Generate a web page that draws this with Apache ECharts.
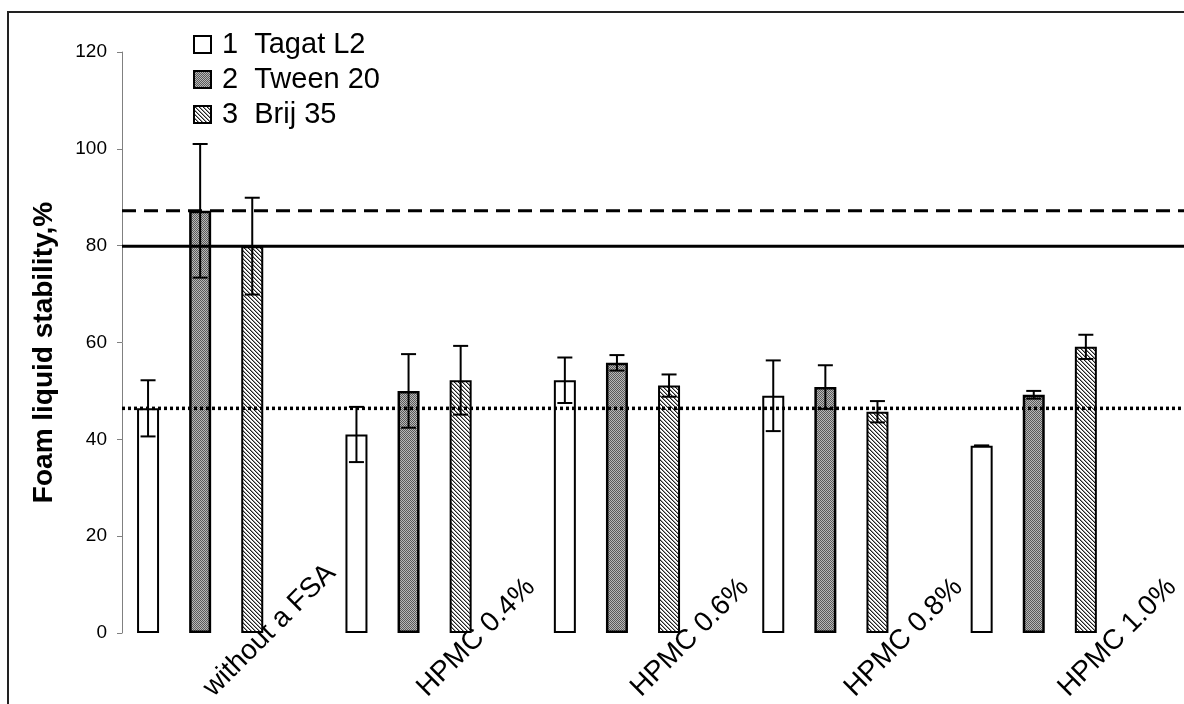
<!DOCTYPE html>
<html><head><meta charset="utf-8">
<script src="https://cdn.jsdelivr.net/npm/echarts@6/dist/echarts.min.js"></script>
<style>html,body{margin:0;padding:0;background:#fff}#c{width:1184px;height:704px}</style>
</head><body><div id="c"></div>
<script>
// ---- data ----
const categories = ['without a FSA', 'HPMC 0.4%', 'HPMC 0.6%', 'HPMC 0.8%', 'HPMC 1.0%'];
const seriesNames = ['1  Tagat L2', '2  Tween 20', '3  Brij 35'];
const tagat    = [46.4, 41.0, 52.2, 49.0, 38.7];
const tagatErr = [5.8, 5.7, 4.7, 7.3, 0];
const tween    = [87.2, 50.0, 55.8, 50.8, 49.2];
const tweenErr = [13.8, 7.6, 1.6, 4.5, 0.8];
const brij     = [79.9, 52.2, 51.1, 45.7, 59.1];
const brijErr  = [10.0, 7.1, 2.3, 2.2, 2.5];
const yMin = 0, yMax = 120, yStep = 20;
// reference lines = values without a FSA
const refTagat = tagat[0], refTween = tween[0], refBrij = brij[0];

// ---- patterns ----
function checkerPattern() {
  const c = document.createElement('canvas'); c.width = 2; c.height = 2;
  const g = c.getContext('2d');
  g.fillStyle = '#b8b8b8'; g.fillRect(0, 0, 2, 2);
  g.fillStyle = '#5a5a5a'; g.fillRect(0, 0, 1, 1); g.fillRect(1, 1, 1, 1);
  return { image: c, repeat: 'repeat' };
}
function stripePattern() {
  const c = document.createElement('canvas'); c.width = 4; c.height = 4;
  const g = c.getContext('2d');
  g.fillStyle = '#ffffff'; g.fillRect(0, 0, 4, 4);
  for (let y = 0; y < 4; y++) {
    g.fillStyle = '#222'; g.fillRect(y % 4, y, 1, 1);
    g.fillStyle = '#9a9a9a'; g.fillRect((y + 1) % 4, y, 1, 1);
  }
  return { image: c, repeat: 'repeat' };
}

const FONT = 'Liberation Sans, Arial, sans-serif';
const fills = ['#ffffff', checkerPattern(), stripePattern()];
const values = [tagat, tween, brij];
const errs = [tagatErr, tweenErr, brijErr];

function errRender(slot) {
  return function (params, api) {
    const i = api.value(0), v = api.value(1), e = api.value(2);
    const band = api.size([1, 0])[0];
    const dx = (slot - 1.5) * band / 4;
    const top = api.coord([i, v + e]);
    const bot = api.coord([i, v - e]);
    const x = top[0] + dx, hw = 7.5;
    const st = { stroke: '#000', lineWidth: 2 };
    return { type: 'group', children: [
      { type: 'line', shape: { x1: x, y1: top[1], x2: x, y2: bot[1] }, style: st },
      { type: 'line', shape: { x1: x - hw, y1: top[1], x2: x + hw, y2: top[1] }, style: st },
      { type: 'line', shape: { x1: x - hw, y1: bot[1], x2: x + hw, y2: bot[1] }, style: st }
    ]};
  };
}

const series = [];
for (let s = 0; s < 3; s++) {
  series.push({
    name: seriesNames[s], type: 'bar', xAxisIndex: 0, yAxisIndex: 0,
    data: values[s], barWidth: 22, barGap: '136.8%',
    itemStyle: { color: fills[s], borderColor: '#000', borderWidth: s === 1 ? 2.5 : 2 },
    emphasis: { disabled: true }, z: 2
  });
}
series.push({ name: 'pad', type: 'bar', xAxisIndex: 0, yAxisIndex: 0, data: categories.map(() => '-'), barWidth: 22, barGap: '136.8%' });
for (let s = 0; s < 3; s++) {
  series.push({
    type: 'custom', xAxisIndex: 0, yAxisIndex: 0, z: 4,
    renderItem: errRender(s),
    encode: { x: 0, y: 1 },
    data: values[s].map((v, i) => [i, v, errs[s][i]])
  });
}
const refLines = [
  { v: refTween, type: [14, 8], w: 3 },
  { v: refBrij, type: 'solid', w: 3 },
  { v: refTagat, type: [3, 3], w: 3.5 }
];
refLines.forEach(r => series.push({
  type: 'line', xAxisIndex: 1, yAxisIndex: 1, symbol: 'none', z: 5, silent: true,
  data: [[0, r.v], [1, r.v]],
  lineStyle: { color: '#000', width: r.w, type: r.type }
}));

const chart = echarts.init(document.getElementById('c'), null, { renderer: 'canvas' });
chart.setOption({
  animation: false,
  backgroundColor: '#fff',
  graphic: [{ type: 'rect', shape: { x: 8, y: 12, width: 1200, height: 720 }, style: { fill: 'none', stroke: '#222', lineWidth: 2 }, z: -1 }],
  legend: {
    orient: 'vertical', left: 193, top: 30, padding: 0, icon: 'rect', itemWidth: 17, itemHeight: 17, itemGap: 6,
    data: seriesNames, selectedMode: false,
    textStyle: { fontSize: 29, fontFamily: FONT, color: '#000', padding: [0, 0, 0, 6], lineHeight: 29 }
  },
  grid: [
    { left: 122, right: 20, top: 52, bottom: 71 },
    { left: 122, right: 0, top: 52, bottom: 71 },
    { left: 111, right: 4, top: 52, bottom: 71 }
  ],
  xAxis: [
    { type: 'category', gridIndex: 0, data: categories, axisLine: { show: false }, axisTick: { show: false }, axisLabel: { show: false } },
    { type: 'value', gridIndex: 1, min: 0, max: 1, show: false },
    { type: 'category', gridIndex: 2, data: categories, axisLine: { show: false }, axisTick: { show: false },
      axisLabel: { rotate: 45, align: 'left', verticalAlign: 'bottom', margin: 75, fontSize: 28, fontFamily: FONT, color: '#000', interval: 0 } }
  ],
  yAxis: [
    { type: 'value', gridIndex: 0, min: yMin, max: yMax, interval: yStep,
      axisLine: { show: true, lineStyle: { color: '#808080', width: 1 } },
      axisTick: { show: true, length: 5, lineStyle: { color: '#808080' } },
      splitLine: { show: false },
      axisLabel: { color: '#000', fontSize: 19, fontFamily: FONT, margin: 15 },
      name: 'Foam liquid stability,%', nameLocation: 'middle', nameGap: 64,
      nameTextStyle: { fontSize: 28, fontWeight: 'bold', color: '#000', fontFamily: FONT, padding: [0, 20, 0, 0] } },
    { type: 'value', gridIndex: 1, min: yMin, max: yMax, show: false },
    { type: 'value', gridIndex: 2, min: yMin, max: yMax, show: false }
  ],
  series: series
});
</script>
</body></html>
